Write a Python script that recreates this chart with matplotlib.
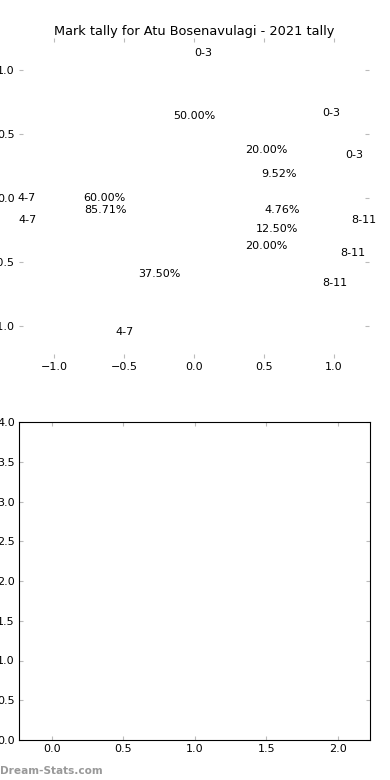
import matplotlib
matplotlib.use('Agg')
import matplotlib.pyplot as plt

bands = ['0-3', '4-7', '8-11']
tally_a = [4, 3, 1]
tally_b = [1, 3, 1]
tally_c = [2, 18, 1]

bar_pos = [0, 1, 2]
bar_vals = [0, 0, 0]

fig = plt.figure(figsize=(3.9, 7.8), dpi=100)

ax1 = fig.add_axes([19 / 390, 1 - 358 / 780, 350 / 390, 320 / 780])
for tally in (tally_a, tally_b, tally_c):
    wedges, texts, autotexts = ax1.pie(
        tally, labels=bands, autopct='%1.2f%%', colors=['none'] * 3,
        radius=1.03, pctdistance=0.62, labeldistance=1.1,
        wedgeprops={'linewidth': 0}, textprops={'fontsize': 8})
    for t in texts:
        x, y = t.get_position()
        t.set_ha('left' if x > -1e-6 else 'right')
ax1.set_aspect('auto')
ax1.set_frame_on(False)
ax1.set_xlim(-1.25, 1.25)
ax1.set_ylim(-1.25, 1.25)
ax1.set_xticks([-1.0, -0.5, 0.0, 0.5, 1.0])
ax1.set_yticks([-1.0, -0.5, 0.0, 0.5, 1.0])
ax1.tick_params(direction='in', length=3, color='#bbbbbb', labelsize=8,
                top=True, right=True, pad=3)
ax1.set_title('Mark tally for Atu Bosenavulagi - 2021 tally', fontsize=9.3, pad=2.5)

ax2 = fig.add_axes([19 / 390, 1 - 740 / 780, 351 / 390, 318 / 780])
ax2.bar(bar_pos, bar_vals, width=0.0)
ax2.set_xlim(-0.229, 2.226)
ax2.set_ylim(0, 4)
ax2.set_xticks([0.0, 0.5, 1.0, 1.5, 2.0])
ax2.set_yticks([0.0, 0.5, 1.0, 1.5, 2.0, 2.5, 3.0, 3.5, 4.0])
ax2.tick_params(direction='in', length=3, color='#bbbbbb', labelsize=8,
                top=True, right=True, pad=3)

fig.text(0.0, 1 - 771 / 780, 'Dream-Stats.com', fontsize=7.6, color='#999999',
         fontweight='bold', va='center', ha='left')

fig.savefig('out.png', dpi=100)
